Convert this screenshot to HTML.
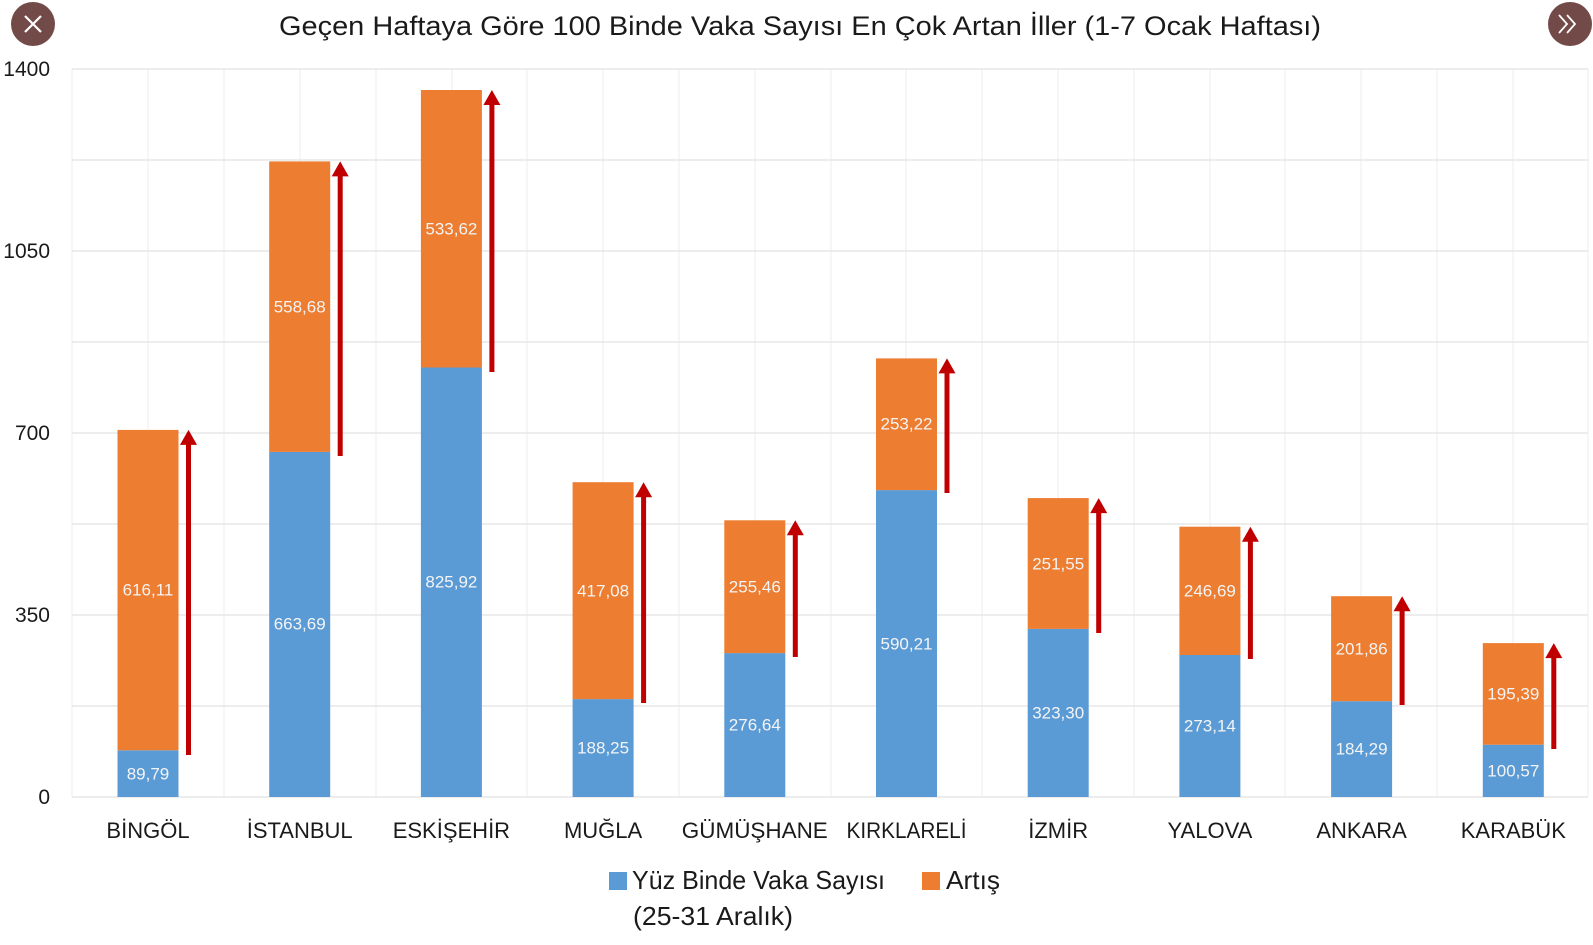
<!DOCTYPE html>
<html><head><meta charset="utf-8"><style>
html,body{margin:0;padding:0;background:#fff;}
svg{display:block;font-family:"Liberation Sans",sans-serif;}
</style></head><body>
<svg width="1593" height="945" viewBox="0 0 1593 945" xmlns="http://www.w3.org/2000/svg">
<rect width="1593" height="945" fill="#fff"/>
<!-- buttons -->
<circle cx="33" cy="24" r="22" fill="#724a48"/>
<path d="M25 16 L41 32 M41 16 L25 32" stroke="#fff" stroke-width="2.2"/>
<circle cx="1570" cy="24" r="22" fill="#724a48"/>
<path d="M1559 15 L1567 24 L1559 33 M1567 15 L1575 24 L1567 33" stroke="#fff" stroke-width="1.8" fill="none"/>
<text x="800" y="35" font-size="27" text-anchor="middle" fill="#1a1a1a" textLength="1042" lengthAdjust="spacingAndGlyphs">Geçen Haftaya Göre 100 Binde Vaka Sayısı En Çok Artan İller (1-7 Ocak Haftası)</text>
<!-- vertical grid -->
<g stroke="#eeeeee" stroke-width="1">
<line x1="72" y1="69" x2="72" y2="797"/><line x1="148" y1="69" x2="148" y2="797"/><line x1="224" y1="69" x2="224" y2="797"/><line x1="300" y1="69" x2="300" y2="797"/><line x1="376" y1="69" x2="376" y2="797"/><line x1="452" y1="69" x2="452" y2="797"/><line x1="527" y1="69" x2="527" y2="797"/><line x1="603" y1="69" x2="603" y2="797"/><line x1="679" y1="69" x2="679" y2="797"/><line x1="755" y1="69" x2="755" y2="797"/><line x1="831" y1="69" x2="831" y2="797"/><line x1="906" y1="69" x2="906" y2="797"/><line x1="982" y1="69" x2="982" y2="797"/><line x1="1058" y1="69" x2="1058" y2="797"/><line x1="1134" y1="69" x2="1134" y2="797"/><line x1="1210" y1="69" x2="1210" y2="797"/><line x1="1285" y1="69" x2="1285" y2="797"/><line x1="1361" y1="69" x2="1361" y2="797"/><line x1="1437" y1="69" x2="1437" y2="797"/><line x1="1513" y1="69" x2="1513" y2="797"/><line x1="1588" y1="69" x2="1588" y2="797"/>
</g>
<g stroke="#e2e2e2" stroke-width="1.3">
<line x1="72" y1="69" x2="1588" y2="69"/><line x1="72" y1="160" x2="1588" y2="160"/><line x1="72" y1="251" x2="1588" y2="251"/><line x1="72" y1="342" x2="1588" y2="342"/><line x1="72" y1="433" x2="1588" y2="433"/><line x1="72" y1="524" x2="1588" y2="524"/><line x1="72" y1="615" x2="1588" y2="615"/><line x1="72" y1="706" x2="1588" y2="706"/><line x1="72" y1="797" x2="1588" y2="797"/>
</g>
<g font-size="21" fill="#1a1a1a" text-anchor="end">
<text x="50" y="76">1400</text><text x="50" y="258">1050</text><text x="50" y="440">700</text><text x="50" y="622">350</text><text x="50" y="804">0</text>
</g>
<!-- bars -->
<g>
<rect x="117.5" y="750.3" width="61" height="46.7" fill="#5b9bd5"/><rect x="117.5" y="429.9" width="61" height="320.4" fill="#ed7d31"/>
<rect x="269.2" y="451.9" width="61" height="345.1" fill="#5b9bd5"/><rect x="269.2" y="161.4" width="61" height="290.5" fill="#ed7d31"/>
<rect x="420.9" y="367.5" width="61" height="429.5" fill="#5b9bd5"/><rect x="420.9" y="90" width="61" height="277.5" fill="#ed7d31"/>
<rect x="572.6" y="699.1" width="61" height="97.9" fill="#5b9bd5"/><rect x="572.6" y="482.2" width="61" height="216.9" fill="#ed7d31"/>
<rect x="724.3" y="653.1" width="61" height="143.9" fill="#5b9bd5"/><rect x="724.3" y="520.3" width="61" height="132.8" fill="#ed7d31"/>
<rect x="876" y="490.1" width="61" height="306.9" fill="#5b9bd5"/><rect x="876" y="358.4" width="61" height="131.7" fill="#ed7d31"/>
<rect x="1027.7" y="628.9" width="61" height="168.1" fill="#5b9bd5"/><rect x="1027.7" y="498.1" width="61" height="130.8" fill="#ed7d31"/>
<rect x="1179.4" y="655" width="61" height="142" fill="#5b9bd5"/><rect x="1179.4" y="526.7" width="61" height="128.3" fill="#ed7d31"/>
<rect x="1331.1" y="701.2" width="61" height="95.8" fill="#5b9bd5"/><rect x="1331.1" y="596.2" width="61" height="105" fill="#ed7d31"/>
<rect x="1482.8" y="744.7" width="61" height="52.3" fill="#5b9bd5"/><rect x="1482.8" y="643.1" width="61" height="101.6" fill="#ed7d31"/>
</g>
<!-- arrows -->
<g fill="#c00000">
<rect x="186" y="440" width="5" height="315"/><polygon points="188.5,429.9 180,444.9 197,444.9"/>
<rect x="337.7" y="171" width="5" height="285"/><polygon points="340.2,161.4 331.7,176.4 348.7,176.4"/>
<rect x="489.4" y="100" width="5" height="272"/><polygon points="491.9,90 483.4,105 500.4,105"/>
<rect x="641.1" y="492" width="5" height="211"/><polygon points="643.6,482.2 635.1,497.2 652.1,497.2"/>
<rect x="792.8" y="530" width="5" height="127"/><polygon points="795.3,520.3 786.8,535.3 803.8,535.3"/>
<rect x="944.5" y="368" width="5" height="125"/><polygon points="947,358.4 938.5,373.4 955.5,373.4"/>
<rect x="1096.2" y="508" width="5" height="125"/><polygon points="1098.7,498.1 1090.2,513.1 1107.2,513.1"/>
<rect x="1247.9" y="536" width="5" height="123"/><polygon points="1250.4,526.7 1241.9,541.7 1258.9,541.7"/>
<rect x="1399.6" y="606" width="5" height="99"/><polygon points="1402.1,596.2 1393.6,611.2 1410.6,611.2"/>
<rect x="1551.3" y="653" width="5" height="96"/><polygon points="1553.8,643.1 1545.3,658.1 1562.3,658.1"/>
</g>
<!-- value labels -->
<g font-size="17" fill="#f4f4f4" text-anchor="middle" dominant-baseline="central">
<text x="148" y="774">89,79</text><text x="148" y="590">616,11</text>
<text x="299.7" y="624">663,69</text><text x="299.7" y="307">558,68</text>
<text x="451.4" y="582">825,92</text><text x="451.4" y="229">533,62</text>
<text x="603.1" y="748">188,25</text><text x="603.1" y="591">417,08</text>
<text x="754.8" y="725">276,64</text><text x="754.8" y="587">255,46</text>
<text x="906.5" y="644">590,21</text><text x="906.5" y="424">253,22</text>
<text x="1058.2" y="713">323,30</text><text x="1058.2" y="564">251,55</text>
<text x="1209.9" y="726">273,14</text><text x="1209.9" y="591">246,69</text>
<text x="1361.6" y="749">184,29</text><text x="1361.6" y="649">201,86</text>
<text x="1513.3" y="771">100,57</text><text x="1513.3" y="694">195,39</text>
</g>
<!-- category labels -->
<g font-size="22" fill="#1a1a1a" text-anchor="middle">
<text x="148" y="838">BİNGÖL</text><text x="299.7" y="838">İSTANBUL</text><text x="451.4" y="838">ESKİŞEHİR</text><text x="603.1" y="838">MUĞLA</text><text x="754.8" y="838" textLength="146" lengthAdjust="spacingAndGlyphs">GÜMÜŞHANE</text><text x="906.5" y="838" textLength="120" lengthAdjust="spacingAndGlyphs">KIRKLARELİ</text><text x="1058.2" y="838">İZMİR</text><text x="1209.9" y="838">YALOVA</text><text x="1361.6" y="838">ANKARA</text><text x="1513.3" y="838">KARABÜK</text>
</g>
<!-- legend -->
<rect x="609" y="872" width="18" height="18" fill="#5b9bd5"/>
<text x="632" y="889" font-size="26" fill="#1a1a1a" textLength="253" lengthAdjust="spacingAndGlyphs">Yüz Binde Vaka Sayısı</text>
<text x="633" y="925" font-size="26" fill="#1a1a1a" textLength="160" lengthAdjust="spacingAndGlyphs">(25-31 Aralık)</text>
<rect x="922" y="872" width="18" height="18" fill="#ed7d31"/>
<text x="946" y="889" font-size="26" fill="#1a1a1a" textLength="54" lengthAdjust="spacingAndGlyphs">Artış</text>
</svg>
</body></html>
